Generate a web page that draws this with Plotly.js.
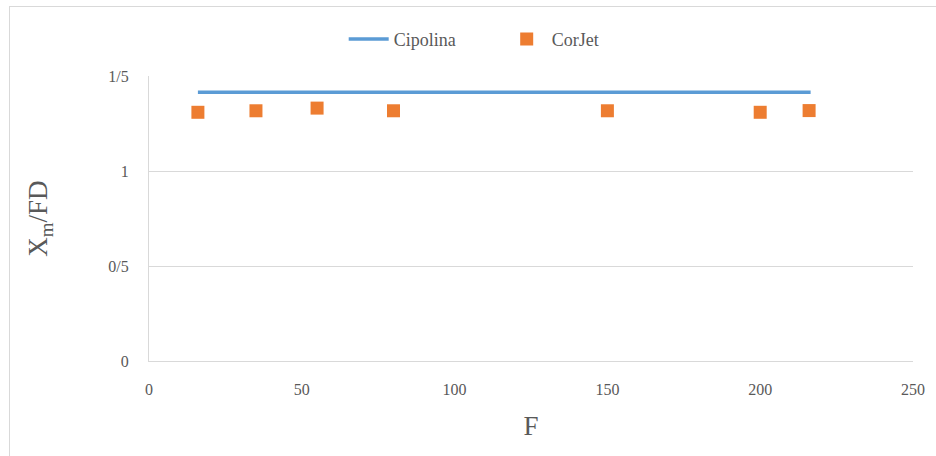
<!DOCTYPE html>
<html>
<head>
<meta charset="utf-8">
<script src="https://cdn.plot.ly/plotly-3.0.1.min.js"></script>
<style>
  html, body { margin: 0; padding: 0; background: #fff; }
  #wrap { position: relative; width: 936px; height: 456px; }
  #chart { width: 936px; height: 456px; }
  #frame { position: absolute; left: 9px; top: 6px; right: -2px; bottom: -2px;
           border-left: 1px solid #D9D9D9; border-top: 1px solid #D9D9D9; pointer-events: none; }
</style>
</head>
<body>
<div id="wrap">
  <div id="chart"></div>
  <div id="frame"></div>
</div>
<script>
// Data
const cipolinaF = [16, 216.5];
const cipolinaY = [1.414, 1.414];
const corjetF = [16, 35, 55, 80, 150, 200, 216];
const corjetY = [1.309, 1.317, 1.331, 1.317, 1.317, 1.309, 1.318];
const yTickVals = [0, 0.5, 1, 1.5];
const yTickText = ['0', '0/5', '1', '1/5'];
const xTickVals = [0, 50, 100, 150, 200, 250];

const tickFont = { family: 'Liberation Serif, Times New Roman, serif', size: 16, color: '#595959' };
const titleFont = { family: 'Liberation Serif, Times New Roman, serif', size: 27, color: '#595959' };

const traces = [
  {
    x: cipolinaF, y: cipolinaY, type: 'scatter', mode: 'lines', name: 'Cipolina',
    line: { color: '#5B9BD5', width: 3.5 }
  },
  {
    x: corjetF, y: corjetY, type: 'scatter', mode: 'markers', name: 'CorJet',
    marker: { symbol: 'square', color: '#ED7D31', size: 13 }
  }
];

const layout = {
  width: 936, height: 456,
  margin: { l: 149, r: 23, t: 76, b: 94.5, autoexpand: false },
  paper_bgcolor: '#fff', plot_bgcolor: '#fff',
  showlegend: true,
  legend: {
    orientation: 'h', xref: 'container', yref: 'container',
    x: 0.536, xanchor: 'center', y: 0.914, yanchor: 'middle',
    font: { family: 'Liberation Serif, Times New Roman, serif', size: 18, color: '#595959' },
    itemwidth: 40, traceorder: 'normal', entrywidth: 103
  },
  xaxis: {
    range: [0, 250], tickvals: xTickVals, tickfont: tickFont,
    showgrid: false, zeroline: false, showline: true, linecolor: '#D9D9D9', linewidth: 1,
    ticks: '', ticklabelstandoff: 14,
    title: { text: 'F', font: titleFont, standoff: 18 }
  },
  yaxis: {
    range: [0, 1.5], tickvals: yTickVals, ticktext: yTickText, tickfont: tickFont,
    showgrid: true, gridcolor: '#D9D9D9', gridwidth: 1, zeroline: false,
    showline: true, linecolor: '#D9D9D9', linewidth: 1,
    ticks: '', ticklabelstandoff: 16,
    title: { text: 'X<sub>m</sub>/FD', font: titleFont, standoff: 52 }
  }
};

Plotly.newPlot('chart', traces, layout, { displayModeBar: false, staticPlot: true });
</script>
</body>
</html>
